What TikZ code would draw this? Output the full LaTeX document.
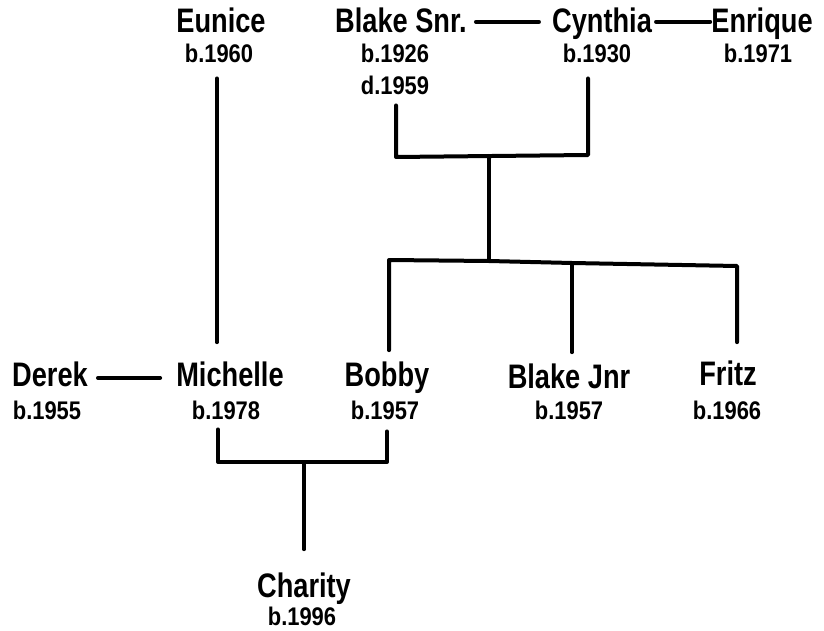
\documentclass[tikz,border=0pt]{standalone}
\usepackage{fontspec}
\newfontfamily\namefont{Liberation Sans}[FakeStretch=0.8]
\newfontfamily\datefont{Liberation Sans}[FakeStretch=0.86]
\usetikzlibrary{calc}
\begin{document}
\begin{tikzpicture}[x=1pt,y=-1pt,
  person/.style={anchor=base,inner sep=0pt,font=\namefont\bfseries\fontsize{34}{36}\selectfont},
  year/.style={anchor=base,inner sep=0pt,font=\datefont\bfseries\fontsize{25.5}{27}\selectfont},
  pen/.style={line width=4pt,line cap=round,line join=round}]
\fill[white] (0,0) rectangle (824,631);
\useasboundingbox (0,0) rectangle (824,631);
% top generation
\node[person] (eunice) at (221,33) {Eunice};
\node[year] (eunice-b) at (219,63) {b.1960};
\node[person] (blake) at (401,33) {Blake Snr.};
\node[year] (blake-b) at (395,63) {b.1926};
\node[year] (blake-d) at (395,95) {d.1959};
\node[person] (cynthia) at (602,33) {Cynthia};
\node[year] (cynthia-b) at (597,63) {b.1930};
\node[person] (enrique) at (762,33) {Enrique};
\node[year] (enrique-b) at (758,63) {b.1971};
% middle generation
\node[person] (derek) at (50,386) {Derek};
\node[year] (derek-b) at (47,419) {b.1955};
\node[person] (michelle) at (230,386) {Michelle};
\node[year] (michelle-b) at (226,419) {b.1978};
\node[person] (bobby) at (387,386) {Bobby};
\node[year] (bobby-b) at (385,419) {b.1957};
\node[person] (blakejnr) at (569,388) {Blake Jnr};
\node[year] (blakejnr-b) at (569,419) {b.1957};
\node[person] (fritz) at (728,385) {Fritz};
\node[year] (fritz-b) at (727,419) {b.1966};
% bottom generation
\node[person] (charity) at (304,597) {Charity};
\node[year] (charity-b) at (302,625) {b.1996};
% bar coordinates
\coordinate (bs1) at (396,157);
\coordinate (cy1) at (588,155);
\coordinate (mid1) at (489,156);
\coordinate (mid2) at (489,261);
\coordinate (bar-b) at (389,260);
\coordinate (bar-j) at (572,263);
\coordinate (bar-f) at (737,266);
\coordinate (eu1) at (217,0);
\coordinate (mi1) at (218,462);
\coordinate (bo1) at (387,462);
\coordinate (ch1) at (304,462);
% partner lines
\draw[pen,shorten <=9pt,shorten >=13pt] ([yshift=-1pt]blake.east) -- ([yshift=-1pt]blake.east -| cynthia.west);
\draw[pen,shorten <=4pt,shorten >=1pt] ([yshift=-1pt]cynthia.east |- blake.east) -- ([yshift=-1pt]blake.east -| enrique.west);
\draw[pen,shorten <=10pt,shorten >=16pt] ([yshift=-4pt]derek.east) -- ([yshift=-4pt]derek.east -| michelle.west);
% Eunice to Michelle
\draw[pen,shorten <=15pt,shorten >=19pt] (eu1 |- eunice-b.south) -- (eu1 |- michelle.north);
% Blake Snr. and Cynthia
\draw[pen,shorten <=10pt,shorten >=15pt] (bs1 |- blake-d.south) -- (bs1) -- (cy1) -- (cy1 |- cynthia-b.south);
\draw[pen] (mid1) -- (mid2);
\draw[pen,shorten <=11pt,shorten >=18pt] (bar-b |- bobby.north) -- (bar-b) -- (mid2) -- (bar-j) -- (bar-f) -- (bar-f |- fritz.north);
\draw[pen,shorten >=11pt] (bar-j) -- (bar-j |- blakejnr.north);
% Michelle and Bobby
\draw[pen,shorten <=10pt,shorten >=12pt] (mi1 |- michelle-b.south) -- (mi1) -- (bo1) -- (bo1 |- bobby-b.south);
\draw[pen,shorten >=23pt] (ch1) -- (ch1 |- charity.north);
\end{tikzpicture}
\end{document}
